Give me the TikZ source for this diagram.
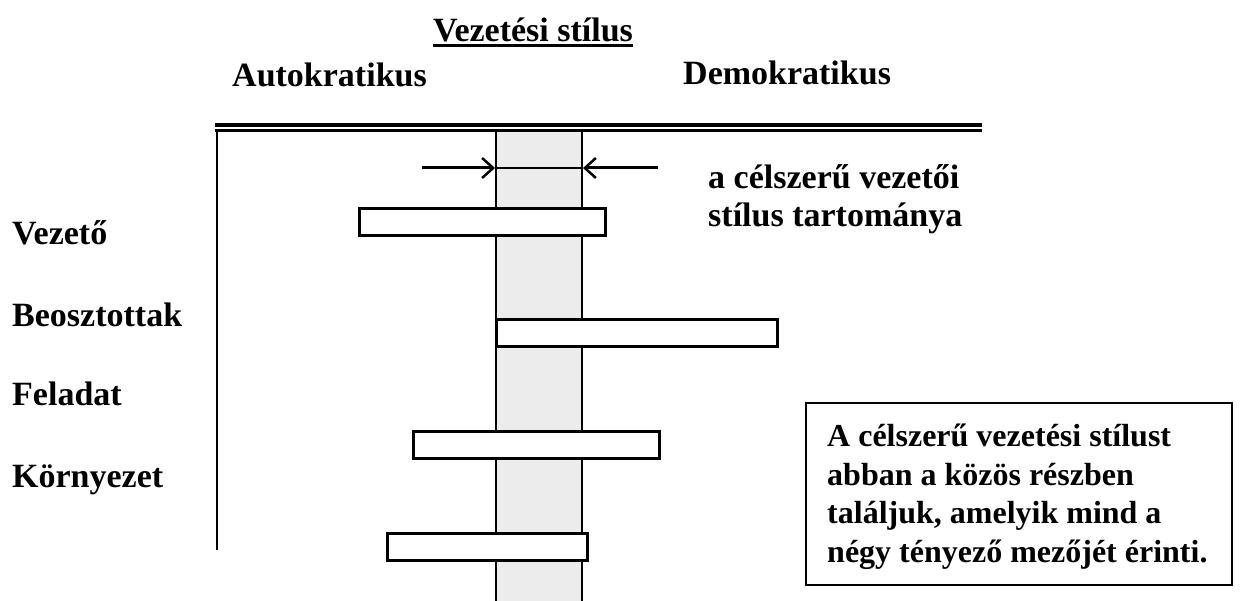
\documentclass[tikz,border=0pt]{standalone}
\usepackage{fontspec}
\setmainfont{Liberation Serif}
\usetikzlibrary{arrows.meta}
\begin{document}
\begin{tikzpicture}[x=1pt,y=-1pt,
  lbl/.style={font=\fontsize{34}{38.5}\selectfont\bfseries, inner sep=0pt, anchor=base west},
  boxtext/.style={font=\fontsize{32}{38.5}\selectfont\bfseries, inner sep=0pt, anchor=base west, align=left},
  bar/.style={draw, line width=3pt, fill=white, minimum height=27pt, inner sep=0pt},
  edge/.style={line width=2pt},
  pointer/.style={line width=3pt, -{Straight Barb[length=11pt,width=20pt,line width=2.5pt]}}]
\useasboundingbox (0,0) rectangle (1245,601);

% range of suitable styles: shaded band
\fill[gray!15] (496,131) rectangle (582,601);
\draw[edge] (496,131) -- (496,601);
\draw[edge] (582,131) -- (582,601);

% axes
\draw[line width=4pt] (215,125) -- (982,125);
\draw[line width=3pt] (215,131) -- (982,131);
\draw[edge] (217,131) -- (217,550);

% headings
\node[lbl, anchor=base] (title) at (533,42) {Vezetési stílus};
\draw[line width=3pt] ([yshift=-4pt]title.base west) -- ([yshift=-4pt]title.base east);
\node[lbl] (auto) at (232,87) {Autokratikus};
\node[lbl] (demo) at (683,85) {Demokratikus};

% width markers of the band
\coordinate (lstart) at (422,168);
\coordinate (lend) at (495,168);
\coordinate (rstart) at (658,168);
\coordinate (rend) at (583,168);
\draw[line width=1.2pt] (lend) -- (rend);
\draw[pointer] (lstart) -- (lend);
\draw[pointer] (rstart) -- (rend);
% multi-line labels are anchored at the baseline of their last line
\node[lbl, align=left] (range) at (708,227) {a célszerű vezetői\\stílus tartománya};

% factor bars
\node[bar, minimum width=246pt] (b1) at (482.5,222.5) {};
\node[bar, minimum width=281pt] (b2) at (636.5,333) {};
\node[bar, minimum width=246pt] (b3) at (536,444.5) {};
\node[bar, minimum width=200pt] (b4) at (487,547) {};

% factor labels
\node[lbl] (l1) at (12,245) {Vezető};
\node[lbl] (l2) at (12,327) {Beosztottak};
\node[lbl] (l3) at (12,406) {Feladat};
\node[lbl] (l4) at (12,487) {Környezet};

% conclusion box
\node[draw, line width=2pt, minimum width=426pt, minimum height=182pt, inner sep=0pt] (note) at (1019,494) {};
\node[boxtext] (notetext) at (827,562)
  {A célszerű vezetési stílust\\abban a közös részben\\találjuk, amelyik mind a\\négy tényező mezőjét érinti.};
\end{tikzpicture}
\end{document}
